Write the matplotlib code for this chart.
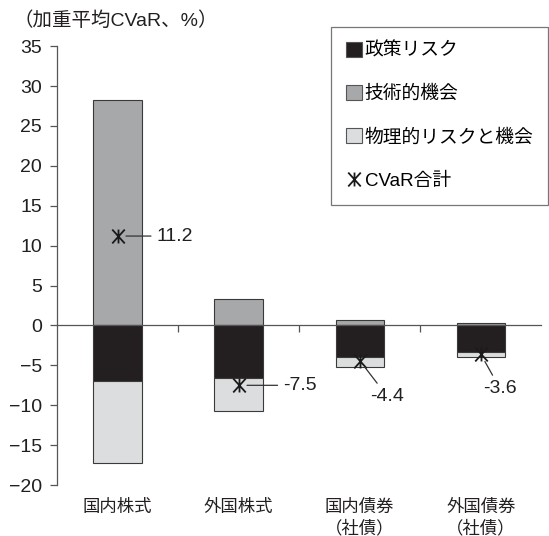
import matplotlib
matplotlib.use("Agg")
import matplotlib.pyplot as plt
from matplotlib.patches import Patch
from matplotlib.lines import Line2D
from matplotlib.path import Path

plt.rcParams['font.family'] = ['Liberation Sans', 'Noto Sans CJK JP', 'DejaVu Sans']

# data (%)
categories = ["国内株式", "外国株式", "国内債券\n（社債）", "外国債券\n（社債）"]
policy = [-7.0, -6.6, -3.9, -3.3]        # 政策リスク
technology = [28.2, 3.3, 0.7, 0.3]       # 技術的機会
physical = [-10.2, -4.1, -1.3, -0.7]     # 物理的リスクと機会
cvar_total = [11.2, -7.5, -4.4, -3.6]    # CVaR合計

# label placement for each total (offset points)
label_offsets = [(28, 0), (32, 0), (20, -26), (14, -25)]
label_align = ["left", "left", "center", "center"]

c_policy = "#231f20"
c_tech = "#a7a8aa"
c_phys = "#dcddde"
c_edge = "#3a3a3a"
c_axis = "#555555"
c_text = "#231f20"

# X with a vertical stroke
star = Path([(0, -1), (0, 1), (-0.9, -1), (0.9, 1), (-0.9, 1), (0.9, -1)],
            [Path.MOVETO, Path.LINETO] * 3)

fig = plt.figure(figsize=(5.49, 5.36), dpi=100)
ax = fig.add_axes([0.104, 0.095, 0.882, 0.819])

x = list(range(len(categories)))
w = 0.4
ax.bar(x, technology, w, color=c_tech, edgecolor=c_edge, linewidth=0.8, zorder=2)
ax.bar(x, policy, w, color=c_policy, edgecolor=c_edge, linewidth=0.8, zorder=2)
ax.bar(x, physical, w, bottom=policy, color=c_phys, edgecolor=c_edge,
       linewidth=0.8, zorder=2)
ax.plot(x, cvar_total, linestyle="none", marker=star, markersize=10,
        color="#1a1a1a", markeredgewidth=1.3, zorder=4)

for i, v in enumerate(cvar_total):
    ax.annotate(f"{v}", xy=(i, v), xytext=label_offsets[i],
                textcoords="offset points", ha=label_align[i], va="center",
                fontsize=14, color=c_text,
                arrowprops=dict(arrowstyle="-", color="#333333", lw=0.9,
                                shrinkA=2, shrinkB=6), zorder=5)

ax.set_xlim(-0.5, 3.5)
ax.set_ylim(-20, 35)
ax.set_yticks(range(-20, 36, 5))
ax.tick_params(axis="y", direction="out", length=5, width=0.9, color=c_axis,
               labelsize=14, pad=6, labelcolor=c_text)

for s in ["top", "right"]:
    ax.spines[s].set_visible(False)
ax.spines["left"].set_color(c_axis)
ax.spines["left"].set_linewidth(0.9)
ax.spines["bottom"].set_position(("data", 0))
ax.spines["bottom"].set_color(c_axis)
ax.spines["bottom"].set_linewidth(0.9)
ax.spines["bottom"].set_zorder(3)

# category boundary ticks on the zero line
ax.set_xticks([0.5, 1.5, 2.5], minor=True)
ax.set_xticks([])
ax.tick_params(axis="x", which="minor", direction="out", length=5,
               width=0.9, color=c_axis, labelbottom=False)

# category names below the plot area
sec = ax.secondary_xaxis("bottom")
sec.set_xticks(x, categories)
sec.spines["bottom"].set_visible(False)
sec.tick_params(axis="x", length=0, pad=10, labelsize=12.5, labelcolor=c_text)
for t in sec.get_xticklabels():
    t.set_linespacing(1.3)

fig.text(0.024, 0.962, "（加重平均CVaR、%）", fontsize=14, color=c_text,
         ha="left", va="center")

handles = [
    Patch(facecolor=c_policy, edgecolor="#555555", linewidth=0.8),
    Patch(facecolor=c_tech, edgecolor="#555555", linewidth=0.8),
    Patch(facecolor=c_phys, edgecolor="#555555", linewidth=0.8),
    Line2D([], [], linestyle="none", marker=star, markersize=10,
           color="#1a1a1a", markeredgewidth=1.3),
]
labels = ["政策リスク", "技術的機会", "物理的リスクと機会", "CVaR合計"]
leg = ax.legend(handles, labels, loc="upper right",
                bbox_to_anchor=(0.999, 0.95), bbox_transform=fig.transFigure,
                fontsize=13.5, frameon=True, fancybox=False, borderpad=0.8,
                labelspacing=1.35, handlelength=0.85, handleheight=0.85,
                handletextpad=0.15, borderaxespad=0)
leg.get_frame().set_edgecolor("#555555")
leg.get_frame().set_linewidth(0.9)

fig.savefig("out.png", dpi=100)
